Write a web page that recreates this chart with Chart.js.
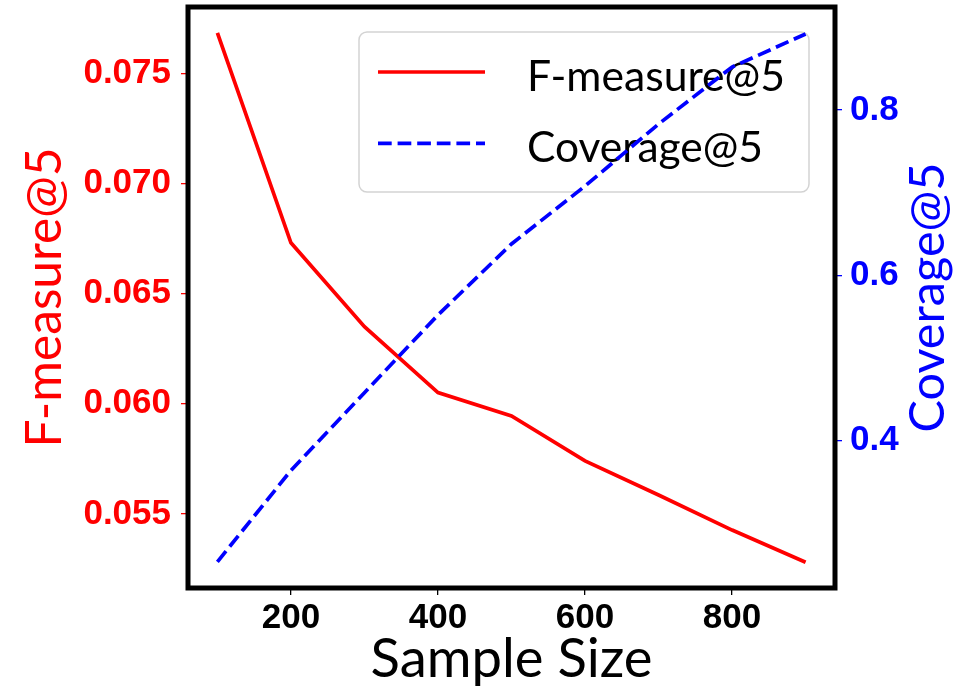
<!DOCTYPE html>
<html>
<head>
<meta charset="utf-8">
<title>F-measure@5 and Coverage@5 vs Sample Size</title>
<script src="https://cdn.jsdelivr.net/npm/chart.js@4.4.1/dist/chart.umd.min.js"></script>
<style>
  html, body { margin: 0; padding: 0; background: #ffffff; }
  #wrap { width: 964px; height: 695px; position: relative; }
</style>
</head>
<body>
<div id="wrap"><canvas id="chart" width="964" height="695"></canvas></div>
<script>
// Series values
const sampleSizes = [100, 200, 300, 400, 500, 600, 700, 800, 900];
const fMeasure    = [0.07684, 0.06731, 0.06350, 0.06051, 0.05945, 0.05741, 0.05586, 0.05427, 0.05281];
const coverage    = [0.2535, 0.364, 0.458, 0.552, 0.638, 0.708, 0.783, 0.852, 0.892];

// Tick values
const xTicks = [200, 400, 600, 800];
const fTicks = [0.055, 0.060, 0.065, 0.070, 0.075];
const cTicks = [0.4, 0.6, 0.8];

// Labels
const fLabel = 'F-measure@5';
const cLabel = 'Coverage@5';
const xLabel = 'Sample Size';

const RED = '#ff0000';
const BLUE = '#0000ff';
const tickFont = { family: "'Liberation Sans', Arial, sans-serif", size: 35, weight: 'bold' };
const textFamily = "Lato, 'Open Sans', sans-serif";

// font size that makes a string span a given width
function fitSize(ctx, text, width) {
  ctx.save();
  ctx.font = '100px ' + textFamily;
  const w = ctx.measureText(text).width;
  ctx.restore();
  return 100 * width / w;
}

// Legend box inside the plot, drawn beneath the lines
const insetLegend = {
  id: 'insetLegend',
  beforeDatasetsDraw(chart) {
    const { ctx, chartArea: a } = chart;
    const boxW = 450, boxH = 160;
    const boxL = a.right - 26 - boxW, boxT = a.top + 25;
    ctx.save();
    ctx.beginPath();
    ctx.roundRect(boxL, boxT, boxW, boxH, 8);
    ctx.fillStyle = 'rgba(255,255,255,0.8)';
    ctx.fill();
    ctx.lineWidth = 1.5;
    ctx.strokeStyle = '#d3d3d3';
    ctx.stroke();
    chart.data.datasets.forEach((ds, i) => {
      const y = boxT + 40 + i * 71.3;
      ctx.beginPath();
      ctx.setLineDash(ds.borderDash || []);
      ctx.lineWidth = ds.borderWidth;
      ctx.strokeStyle = ds.borderColor;
      ctx.moveTo(boxL + 19, y);
      ctx.lineTo(boxL + 126, y);
      ctx.stroke();
      ctx.setLineDash([]);
      const target = i === 0 ? 258 : 236;
      ctx.font = fitSize(ctx, ds.label, target).toFixed(2) + 'px ' + textFamily;
      ctx.fillStyle = '#000000';
      ctx.textAlign = 'left';
      ctx.textBaseline = 'alphabetic';
      ctx.fillText(ds.label, boxL + 168, y + 18.5);
    });
    ctx.restore();
  }
};

// Thick black frame around the plot area
const frame = {
  id: 'frame',
  afterDatasetsDraw(chart) {
    const { ctx, chartArea: a } = chart;
    ctx.save();
    ctx.lineWidth = 5;
    ctx.strokeStyle = '#000000';
    ctx.lineJoin = 'miter';
    ctx.strokeRect(a.left, a.top, a.right - a.left, a.bottom - a.top);
    ctx.restore();
  }
};

// Axis titles (both vertical titles read bottom-to-top)
const axisTitles = {
  id: 'axisTitles',
  afterDraw(chart) {
    const { ctx, chartArea: a } = chart;
    const midY = (a.top + a.bottom) / 2;
    const items = [
      { text: fLabel, color: RED,  x: a.left - 127, y: midY, rot: -Math.PI / 2, width: 300 },
      { text: cLabel, color: BLUE, x: a.right + 109, y: midY, rot: -Math.PI / 2, width: 270 },
      { text: xLabel, color: '#000000', x: (a.left + a.right) / 2, y: a.bottom + 89, rot: 0, width: 282 }
    ];
    items.forEach(t => {
      ctx.save();
      ctx.translate(t.x, t.y);
      ctx.rotate(t.rot);
      ctx.font = fitSize(ctx, t.text, t.width).toFixed(2) + 'px ' + textFamily;
      ctx.fillStyle = t.color;
      ctx.textAlign = 'center';
      ctx.textBaseline = 'alphabetic';
      ctx.fillText(t.text, 0, 0);
      ctx.restore();
    });
  }
};

const points = vals => sampleSizes.map((x, i) => ({ x, y: vals[i] }));

// fixed box sizes, no extra label overhang padding
const fixWidth = w => s => { s.width = w; s.paddingTop = 0; s.paddingBottom = 0; };
const fixHeight = h => s => { s.height = h; s.paddingLeft = 0; s.paddingRight = 0; };

new Chart(document.getElementById('chart'), {
  type: 'line',
  data: {
    datasets: [
      {
        label: fLabel,
        data: points(fMeasure),
        yAxisID: 'yF',
        borderColor: RED,
        borderWidth: 3.7,
        pointRadius: 0,
        tension: 0,
        order: 1
      },
      {
        label: cLabel,
        data: points(coverage),
        yAxisID: 'yC',
        borderColor: BLUE,
        borderWidth: 3.7,
        borderDash: [13.7, 5.9],
        pointRadius: 0,
        tension: 0,
        order: 0
      }
    ]
  },
  options: {
    responsive: false,
    animation: false,
    devicePixelRatio: 1,
    layout: { padding: { top: 7, left: 0, right: 0, bottom: 0 } },
    plugins: {
      legend: { display: false },
      tooltip: { enabled: false }
    },
    scales: {
      x: {
        type: 'linear',
        position: 'bottom',
        min: 60,
        max: 940,
        afterBuildTicks: s => { s.ticks = xTicks.map(v => ({ value: v })); },
        afterFit: fixHeight(107),
        ticks: {
          callback: v => String(v),
          font: tickFont,
          color: '#000000',
          padding: 2,
          maxRotation: 0,
          autoSkip: false
        },
        grid: { drawOnChartArea: false, drawTicks: true, tickLength: 7, color: '#000000', lineWidth: 1.3 },
        border: { display: false }
      },
      yF: {
        type: 'linear',
        position: 'left',
        min: 0.05164,
        max: 0.07801,
        afterBuildTicks: s => { s.ticks = fTicks.map(v => ({ value: v })); },
        afterFit: fixWidth(188),
        ticks: {
          callback: v => Number(v).toFixed(3),
          font: tickFont,
          color: RED,
          padding: 10,
          autoSkip: false
        },
        grid: { drawOnChartArea: false, drawTicks: true, tickLength: 7, color: RED, lineWidth: 1.3 },
        border: { display: false }
      },
      yC: {
        type: 'linear',
        position: 'right',
        min: 0.2218,
        max: 0.9246,
        afterBuildTicks: s => { s.ticks = cTicks.map(v => ({ value: v })); },
        afterFit: fixWidth(129),
        ticks: {
          callback: v => Number(v).toFixed(1),
          font: tickFont,
          color: BLUE,
          padding: 8,
          autoSkip: false
        },
        grid: { drawOnChartArea: false, drawTicks: true, tickLength: 7, color: BLUE, lineWidth: 1.3 },
        border: { display: false }
      }
    }
  },
  plugins: [insetLegend, frame, axisTitles]
});
</script>
</body>
</html>
